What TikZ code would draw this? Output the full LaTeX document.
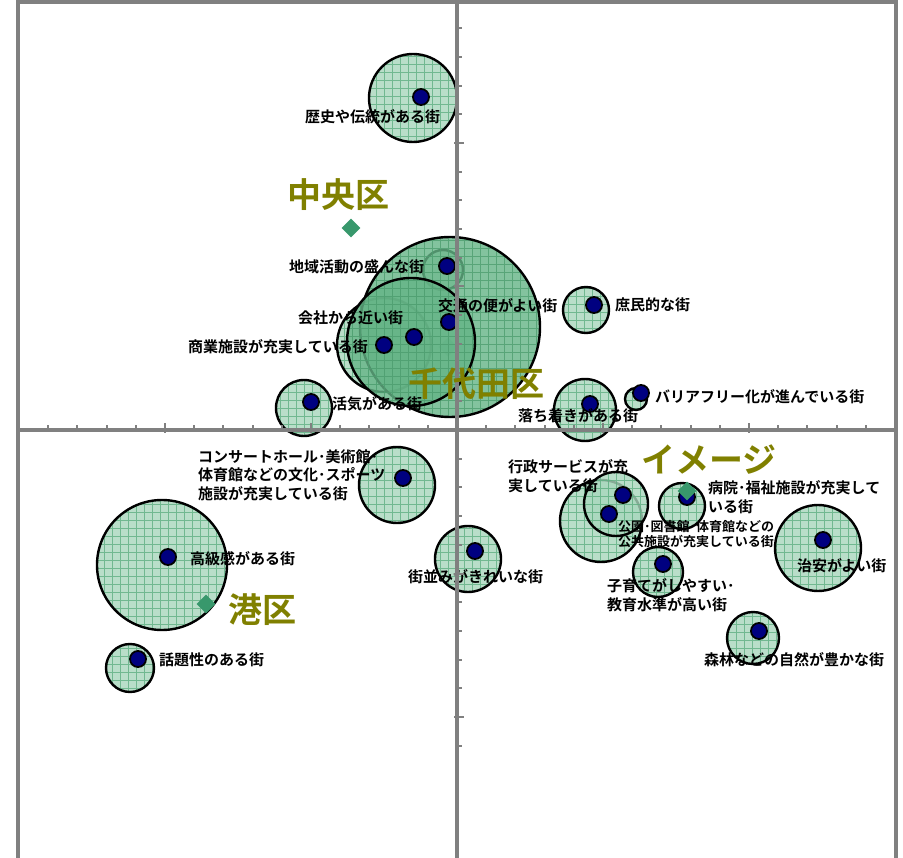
\documentclass[tikz,border=0pt]{standalone}
\usepackage{fontspec}
\setmainfont{Noto Sans CJK JP}[BoldFont={Noto Sans CJK JP Bold}]
\usetikzlibrary{shapes.geometric}
\definecolor{bubblefill}{RGB}{168,214,188}
\definecolor{bubblegrid}{RGB}{95,175,130}
\definecolor{deepfill}{RGB}{100,180,134}
\definecolor{deepgrid}{RGB}{78,158,112}
\definecolor{dotblue}{RGB}{0,0,128}
\definecolor{areagreen}{RGB}{56,152,108}
\definecolor{wardolive}{RGB}{128,128,0}
\definecolor{axisgray}{RGB}{128,128,128}
\newcommand{\bubble}[5]{%
  \fill[#4,fill opacity=.8] (#1,#2) circle (#3);
  \begin{scope}
    \clip (#1,#2) circle (#3);
    \draw[#5,step=8pt,line width=.7pt,opacity=.8] (#1-#3,#2+#3) grid (#1+#3,#2-#3);
  \end{scope}
  \draw[line width=2.4pt] (#1,#2) circle (#3);
}
\tikzset{
  itemlabel/.style={font=\bfseries\fontsize{15}{18.5}\selectfont,inner sep=0pt,align=left,anchor=west},
  smalllabel/.style={itemlabel,font=\bfseries\fontsize{13}{15}\selectfont},
  arealabel/.style={font=\bfseries\fontsize{34}{36}\selectfont,text=wardolive,inner sep=0pt},
  areamark/.style={diamond,fill=areagreen,inner sep=0pt,minimum size=19pt},
  itemdot/.style={circle,fill=dotblue,draw=black,line width=1.8pt,inner sep=0pt,minimum size=16pt},
  axisline/.style={axisgray,line width=3.5pt},
  tickline/.style={axisgray,line width=2pt}
}
\begin{document}
\begin{tikzpicture}[x=1pt,y=-1pt]
\useasboundingbox (0,0) rectangle (903,858);
\node[areamark,opacity=.6] (chiyoda-mark) at (448,347) {};
\bubble{443}{270}{20}{bubblefill}{bubblegrid}
\bubble{384}{345}{47}{bubblefill}{bubblegrid}
\bubble{450}{327}{90}{deepfill}{deepgrid}
\bubble{411}{342}{64}{deepfill}{deepgrid}
\bubble{413}{98}{44}{bubblefill}{bubblegrid}
\bubble{304}{408}{28}{bubblefill}{bubblegrid}
\bubble{586}{310}{23}{bubblefill}{bubblegrid}
\bubble{585}{410}{31}{bubblefill}{bubblegrid}
\bubble{636}{399}{11}{bubblefill}{bubblegrid}
\bubble{397}{485}{38}{bubblefill}{bubblegrid}
\bubble{162}{565}{65}{bubblefill}{bubblegrid}
\bubble{130}{668}{24}{bubblefill}{bubblegrid}
\bubble{468}{559}{33}{bubblefill}{bubblegrid}
\bubble{601}{521}{41}{bubblefill}{bubblegrid}
\bubble{616}{504}{32}{bubblefill}{bubblegrid}
\bubble{682}{506}{23}{bubblefill}{bubblegrid}
\bubble{818}{548}{43}{bubblefill}{bubblegrid}
\bubble{658}{572}{25}{bubblefill}{bubblegrid}
\bubble{753}{638}{26}{bubblefill}{bubblegrid}
% points
\node[itemdot] (rekishi) at (421,97) {};
\node[itemdot] (chiiki) at (447,266) {};
\node[itemdot] (kotsu) at (449,322) {};
\node[itemdot] (kaisha) at (414,337) {};
\node[itemdot] (shogyo) at (384,345) {};
\node[itemdot] (kakki) at (311,402) {};
\node[itemdot] (shomin) at (594,305) {};
\node[itemdot] (ochitsuki) at (590,404) {};
\node[itemdot] (barrier) at (641,393) {};
\node[itemdot] (bunka) at (403,478) {};
\node[itemdot] (kokyu) at (168,557) {};
\node[itemdot] (wadai) at (138,659) {};
\node[itemdot] (machinami) at (475,551) {};
\node[itemdot] (gyosei) at (623,495) {};
\node[itemdot] (koen) at (609,514) {};
\node[itemdot] (byoin) at (687,497) {};
\node[itemdot] (chian) at (823,540) {};
\node[itemdot] (kosodate) at (663,564) {};
\node[itemdot] (shinrin) at (759,631) {};
% labels
\node[itemlabel] (rekishi-label) at (305,117) {歴史や伝統がある街};
\node[itemlabel] (chiiki-label) at (289,267) {地域活動の盛んな街};
\node[itemlabel] (kotsu-label) at (438,306) {交通の便がよい街};
\node[itemlabel] (kaisha-label) at (298,318) {会社から近い街};
\node[itemlabel] (shogyo-label) at (188,347) {商業施設が充実している街};
\node[itemlabel] (kakki-label) at (332,404) {活気がある街};
\node[itemlabel] (shomin-label) at (615,305) {庶民的な街};
\node[itemlabel] (ochitsuki-label) at (518,416) {落ち着きがある街};
\node[itemlabel] (barrier-label) at (655,397) {バリアフリー化が進んでいる街};
\node[itemlabel] (bunka-label) at (198,475) {コンサートホール･美術館･\\体育館などの文化･スポーツ\\施設が充実している街};
\node[itemlabel] (kokyu-label) at (190,559) {高級感がある街};
\node[itemlabel] (wadai-label) at (159,660) {話題性のある街};
\node[itemlabel] (machinami-label) at (408,577) {街並みがきれいな街};
\node[itemlabel] (gyosei-label) at (508,476) {行政サービスが充\\実している街};
\node[itemlabel] (byoin-label) at (708,497) {病院･福祉施設が充実して\\いる街};
\node[smalllabel] (koen-label) at (618,534) {公園･図書館･体育館などの\\公共施設が充実している街};
\node[itemlabel] (chian-label) at (797,566) {治安がよい街};
\node[itemlabel] (kosodate-label) at (607,595) {子育てがしやすい･\\教育水準が高い街};
\node[itemlabel] (shinrin-label) at (704,660) {森林などの自然が豊かな街};
% frame and axes
\draw[axisline] (18,858) -- (18,2) -- (896,2) -- (896,858);
\draw[axisline] (18,430) -- (896,430);
\draw[axisline] (457,0) -- (457,858);
\foreach \k in {-15,...,15} \draw[tickline] ({457+29.2*\k},430) -- ++(0,-5);
\foreach \k in {-15,-10,-5,5,10,15} \draw[tickline] ({457+29.2*\k},433) -- ++(0,-10);
\foreach \k in {-14,...,11} \draw[tickline] (457,{430+28.7*\k}) -- ++(5,0);
\foreach \k in {-10,-5,5,10} \draw[tickline] (454,{430+28.7*\k}) -- ++(10,0);
% wards
\node[areamark] (chuo-mark) at (351,228) {};
\node[areamark] (minato-mark) at (206,604) {};
\node[areamark] (image-mark) at (687,491) {};
\node[arealabel] (chuo) at (338,195) {中央区};
\node[arealabel] (chiyoda) at (476,384) {千代田区};
\node[arealabel] (minato) at (262,610) {港区};
\node[arealabel] (image) at (709,460) {イメージ};
\end{tikzpicture}
\end{document}
